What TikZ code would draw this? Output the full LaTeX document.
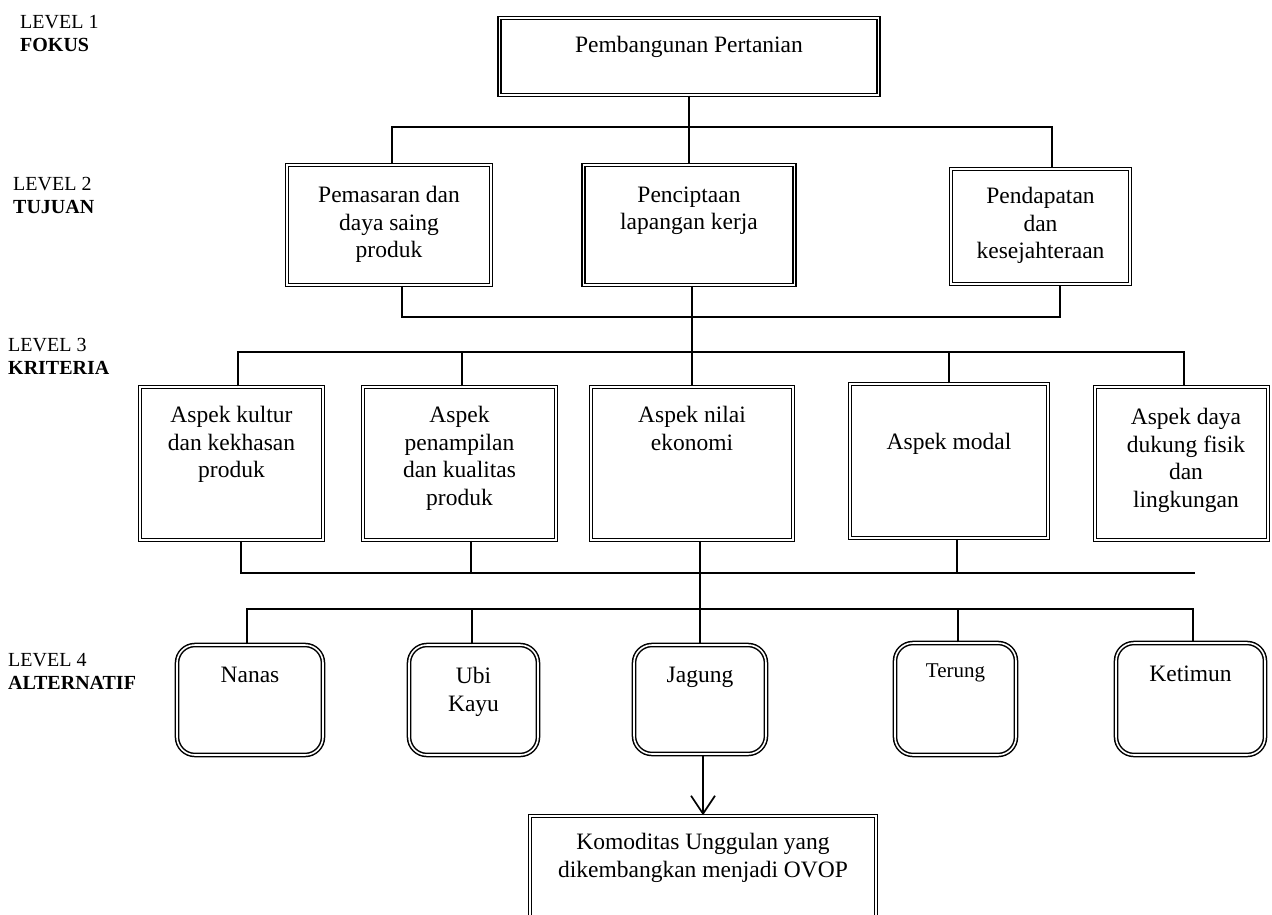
\documentclass[tikz,border=0pt]{standalone}
\usepackage{fontspec}
\setmainfont{Liberation Serif}
\usetikzlibrary{positioning,arrows.meta}

\begin{document}
\begin{tikzpicture}
[x=1pt,y=-1pt,
 box/.style={draw,double,double distance=1.6pt,line width=1.5pt,inner sep=0pt},
 alt/.style={box,rounded corners=18pt},
 txt/.style={inner sep=0pt,align=center,font=\fontsize{23.5}{27.5}\selectfont},
 lvl/.style={inner sep=0pt,align=left,anchor=north west,font=\fontsize{20}{23.5}\selectfont},
 link/.style={line width=1.7pt}]
\useasboundingbox (0,0) rectangle (1272,915);
\clip (0,0) rectangle (1272,915);

% level names
\node[lvl] (lv1) at (20,15) {LEVEL 1\\\textbf{FOKUS}};
\node[lvl] (lv2) at (13,177) {LEVEL 2\\\textbf{TUJUAN}};
\node[lvl] (lv3) at (8,338) {LEVEL 3\\\textbf{KRITERIA}};
\node[lvl] (lv4) at (8,653) {LEVEL 4\\\textbf{ALTERNATIF}};

% boxes
\node[box,minimum width=379pt,minimum height=77pt] (fokus) at (689,56.5) {};
\node[box,minimum width=204pt,minimum height=120pt] (t1) at (389,225) {};
\node[box,minimum width=211pt,minimum height=120pt] (t2) at (689,225) {};
\node[box,minimum width=179pt,minimum height=115pt] (t3) at (1040.5,226.5) {};
\node[box,minimum width=183pt,minimum height=153pt] (k1) at (231.5,463.5) {};
\node[box,minimum width=193pt,minimum height=153pt] (k2) at (459.5,463.5) {};
\node[box,minimum width=202pt,minimum height=153pt] (k3) at (692,463.5) {};
\node[box,minimum width=198pt,minimum height=154pt] (k4) at (949,461) {};
\node[box,minimum width=173pt,minimum height=153pt] (k5) at (1181.5,463.5) {};
\node[alt,minimum width=146pt,minimum height=110pt] (a1) at (250,700) {};
\node[alt,minimum width=129pt,minimum height=110pt] (a2) at (473.5,700) {};
\node[alt,minimum width=132pt,minimum height=109pt] (a3) at (700,699.5) {};
\node[alt,minimum width=121pt,minimum height=112pt] (a4) at (955.5,699) {};
\node[alt,minimum width=149pt,minimum height=112pt] (a5) at (1190.5,699) {};
\node[box,minimum width=346pt,minimum height=134pt] (ovop) at (703,883) {};

% texts
\node[txt,below=19pt of fokus.north] (fokus-t) {Pembangunan Pertanian};
\node[txt,below=22pt of t1.north] (t1-t) {Pemasaran dan\\daya saing\\produk};
\node[txt,below=22pt of t2.north] (t2-t) {Penciptaan\\lapangan kerja};
\node[txt,below=19pt of t3.north] (t3-t) {Pendapatan\\dan\\kesejahteraan};
\node[txt,below=20pt of k1.north] (k1-t) {Aspek kultur\\dan kekhasan\\produk};
\node[txt,below=20pt of k2.north] (k2-t) {Aspek\\penampilan\\dan kualitas\\produk};
\node[txt,below=20pt of k3.north] (k3-t) {Aspek nilai\\ekonomi};
\node[txt,below=50pt of k4.north] (k4-t) {Aspek modal};
\node[txt,below=22pt of k5.north,xshift=4.5pt] (k5-t) {Aspek daya\\dukung fisik\\dan\\lingkungan};
\node[txt,below=23pt of a1.north] (a1-t) {Nanas};
\node[txt,below=23pt of a2.north] (a2-t) {Ubi\\Kayu};
\node[txt,below=23pt of a3.north] (a3-t) {Jagung};
\node[txt,below=21pt of a4.north,font=\fontsize{21}{25}\selectfont] (a4-t) {Terung};
\node[txt,below=23pt of a5.north] (a5-t) {Ketimun};
\node[txt,below=18pt of ovop.north] (ovop-t) {Komoditas Unggulan yang\\dikembangkan menjadi OVOP};

% level 1 - level 2
\coordinate (top2) at (0,127);
\draw[link] (fokus.south) -- (fokus.south |- top2);
\draw[link] ([xshift=3pt]t1.north) |- ([xshift=11.5pt]t3.north |- top2) -- ([xshift=11.5pt]t3.north);
\draw[link] (t2.north |- top2) -- (t2.north);

% level 2 - level 3
\coordinate (low2) at (0,317);
\draw[link] ([xshift=13pt]t1.south) |- ([xshift=19.5pt]t3.south |- low2) -- ([xshift=19.5pt]t3.south);
\draw[link] (k3.north |- t2.south) -- (k3.north);
\coordinate (top3) at (0,352);
\draw[link] ([xshift=6.5pt]k1.north) |- ([xshift=2.5pt]k5.north |- top3) -- ([xshift=2.5pt]k5.north);
\draw[link] ([xshift=2.5pt]k2.north) -- ([xshift=2.5pt]k2.north |- top3);
\draw[link] (k4.north) -- (k4.north |- top3);

% level 3 - level 4
\coordinate (low3) at (1195,573);
\draw[link] ([xshift=9.5pt]k1.south) |- (low3);
\draw[link] ([xshift=11.5pt]k2.south) -- ([xshift=11.5pt]k2.south |- low3);
\draw[link] ([xshift=8pt]k4.south) -- ([xshift=8pt]k4.south |- low3);
\draw[link] (a3.north |- k3.south) -- (a3.north);
\coordinate (top4) at (0,609);
\draw[link] ([xshift=-3pt]a1.north) |- ([xshift=2.5pt]a5.north |- top4) -- ([xshift=2.5pt]a5.north);
\draw[link] ([xshift=-1.5pt]a2.north) -- ([xshift=-1.5pt]a2.north |- top4);
\draw[link] ([xshift=2.5pt]a4.north) -- ([xshift=2.5pt]a4.north |- top4);

% result
\draw[link,-{Straight Barb[length=18pt,width=24pt]}] ([xshift=3pt]a3.south) -- ([xshift=3pt]a3.south |- ovop.north);
\end{tikzpicture}
\end{document}
